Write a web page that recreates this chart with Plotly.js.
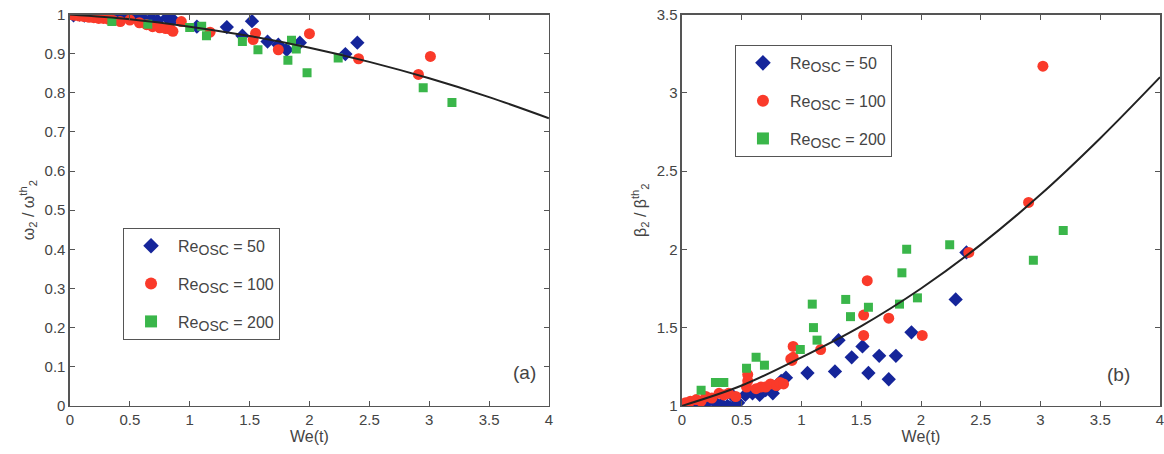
<!DOCTYPE html>
<html>
<head>
<meta charset="utf-8">
<script src="https://cdn.plot.ly/plotly-3.0.1.min.js"></script>
<style>html,body{margin:0;padding:0;background:#fff;}#chart{width:1164px;height:454px;}</style>
</head>
<body>
<div id="chart"></div>
<script>
// ---- Panel (a): omega_2 / omega_2^th vs We(t) ----
const aBlueX = [0.03,0.08,0.12,0.18,0.22,0.25,0.30,0.35,0.38,0.45,0.52,0.60,0.68,0.73,0.81,0.86,1.06,1.31,1.44,1.52,1.65,1.74,1.81,1.92,2.30,2.40];
const aBlueY = [0.998,1.0,0.997,1.0,0.999,0.996,0.998,1.0,0.995,0.999,0.996,0.993,0.990,0.985,0.992,0.987,0.969,0.968,0.946,0.983,0.931,0.923,0.910,0.928,0.899,0.928];
const aRedX = [0.0,0.04,0.08,0.12,0.16,0.20,0.24,0.28,0.32,0.36,0.42,0.50,0.58,0.64,0.69,0.75,0.80,0.84,0.86,0.93,1.17,1.53,1.55,1.74,2.00,2.41,2.91,3.01];
const aRedY = [1.0,0.998,0.996,0.995,0.993,0.992,0.990,0.990,0.988,0.985,0.982,0.986,0.979,0.974,0.969,0.966,0.964,0.962,0.957,0.982,0.955,0.936,0.952,0.910,0.951,0.887,0.847,0.893];
const aGreenX = [0.35,0.65,1.00,1.10,1.14,1.44,1.57,1.82,1.85,1.89,1.98,2.24,2.95,3.19];
const aGreenY = [0.982,0.975,0.967,0.970,0.946,0.931,0.910,0.883,0.934,0.912,0.851,0.889,0.813,0.775];
const aCurveX = [0,0.5,1,1.5,2,2.5,3,3.5,4];
const aCurveY = [1.0,0.988,0.969,0.945,0.915,0.879,0.837,0.789,0.735];

// ---- Panel (b): beta_2 / beta_2^th vs We(t) ----
const bBlueX = [0.03,0.08,0.14,0.18,0.22,0.28,0.33,0.38,0.40,0.43,0.47,0.53,0.59,0.65,0.70,0.76,0.78,0.83,0.87,1.05,1.28,1.31,1.42,1.51,1.56,1.65,1.73,1.79,1.92,2.29,2.38];
const bBlueY = [1.0,1.01,1.02,1.01,1.03,1.02,1.01,1.0,0.99,1.06,1.02,1.07,1.08,1.07,1.10,1.08,1.12,1.16,1.18,1.21,1.22,1.42,1.31,1.38,1.21,1.32,1.17,1.32,1.47,1.68,1.98];
const bRedX = [0.03,0.07,0.12,0.16,0.20,0.25,0.31,0.35,0.39,0.45,0.54,0.55,0.55,0.62,0.66,0.70,0.74,0.79,0.82,0.85,0.91,0.92,0.93,0.93,1.16,1.52,1.52,1.55,1.73,2.01,2.40,2.90,3.02];
const bRedY = [1.02,1.03,1.04,1.03,1.06,1.05,1.08,1.07,1.08,1.06,1.12,1.16,1.20,1.11,1.12,1.12,1.14,1.13,1.15,1.14,1.30,1.29,1.31,1.38,1.36,1.45,1.58,1.80,1.56,1.45,1.98,2.30,3.17];
const bGreenX = [0.16,0.28,0.35,0.54,0.62,0.69,0.99,1.09,1.10,1.13,1.37,1.41,1.56,1.82,1.84,1.88,1.97,2.24,2.94,3.19];
const bGreenY = [1.10,1.15,1.15,1.24,1.31,1.26,1.36,1.65,1.50,1.42,1.68,1.57,1.63,1.65,1.85,2.00,1.69,2.03,1.93,2.12];
const bCurveX = [0,0.5,1,1.5,2,2.5,3,3.5,4];
const bCurveY = [1.0,1.13,1.31,1.51,1.75,2.03,2.35,2.71,3.10];

const subOSC = '<sub><span style="font-size:14px">OSC</span></sub>';
const seriesNames = ['Re' + subOSC + ' = 50','Re' + subOSC + ' = 100','Re' + subOSC + ' = 200'];
const colBlue = '#15259a', colRed = '#fa3a2a', colGreen = '#3ab64a';

function pts(x,y,name,color,symbol,size,xa,ya,leg,grp){
  return {x:x,y:y,name:name,type:'scatter',mode:'markers',xaxis:xa,yaxis:ya,legend:leg,legendgroup:grp,
    marker:{color:color,symbol:symbol,size:size,line:{width:0}},cliponaxis:true};
}
const traces = [
  pts(aBlueX,aBlueY,seriesNames[0],colBlue,'diamond',11,'x','y','legend','a1'),
  pts(aRedX,aRedY,seriesNames[1],colRed,'circle',11,'x','y','legend','a2'),
  pts(aGreenX,aGreenY,seriesNames[2],colGreen,'square',9,'x','y','legend','a3'),
  {x:aCurveX,y:aCurveY,type:'scatter',mode:'lines',line:{color:'#222',width:2,shape:'spline'},showlegend:false,xaxis:'x',yaxis:'y'},
  pts(bBlueX,bBlueY,seriesNames[0],colBlue,'diamond',11,'x2','y2','legend2','b1'),
  pts(bRedX,bRedY,seriesNames[1],colRed,'circle',11,'x2','y2','legend2','b2'),
  pts(bGreenX,bGreenY,seriesNames[2],colGreen,'square',9,'x2','y2','legend2','b3'),
  {x:bCurveX,y:bCurveY,type:'scatter',mode:'lines',line:{color:'#222',width:2,shape:'spline'},showlegend:false,xaxis:'x2',yaxis:'y2'}
];

const fontFam = 'Liberation Sans, Arial, sans-serif';
const axCommon = {showline:true,linecolor:'#555',linewidth:1.5,mirror:'ticks',ticks:'inside',ticklen:5,tickcolor:'#555',
  showgrid:false,zeroline:false,ticklabeloverflow:'allow',tickfont:{family:fontFam,size:15,color:'#444'}};
const yDom = [0.106,0.968];
const legCommon = {xanchor:'left',yanchor:'top',bordercolor:'#555',borderwidth:1,bgcolor:'#fff',
    font:{family:fontFam,size:16,color:'#444'},itemwidth:44,tracegroupgap:14,itemsizing:'constant'};
const layout = {
  width:1164,height:454,margin:{l:0,r:0,t:0,b:0},paper_bgcolor:'#fff',plot_bgcolor:'#fff',
  font:{family:fontFam,color:'#444'},
  xaxis:Object.assign({},axCommon,{domain:[0.0601,0.4716],range:[0,4],dtick:0.5,anchor:'y',
    title:{text:'We(t)',font:{size:16,color:'#444'},standoff:1}}),
  yaxis:Object.assign({},axCommon,{domain:yDom,range:[0,1],dtick:0.1,anchor:'x',
    title:{text:'ω<sub>2</sub> / ω<sup>th</sup><sub>2</sub>',font:{size:16,color:'#444'},standoff:6}}),
  xaxis2:Object.assign({},axCommon,{domain:[0.5859,0.9966],range:[0,4],dtick:0.5,anchor:'y2',
    title:{text:'We(t)',font:{size:16,color:'#444'},standoff:1}}),
  yaxis2:Object.assign({},axCommon,{domain:yDom,range:[1,3.5],dtick:0.5,anchor:'x2',
    title:{text:'β<sub>2</sub> / β<sup>th</sup><sub>2</sub>',font:{size:16,color:'#444'},standoff:6}}),
  legend:Object.assign({},legCommon,{x:0.1057,y:0.498}),
  legend2:Object.assign({},legCommon,{x:0.6314,y:0.901}),
  annotations:[
    {text:'(a)',xref:'x',yref:'y',x:3.80,y:0.084,showarrow:false,font:{family:fontFam,size:19,color:'#444'}},
    {text:'(b)',xref:'x2',yref:'y2',x:3.65,y:1.2,showarrow:false,font:{family:fontFam,size:19,color:'#444'}}
  ]
};
Plotly.newPlot('chart',traces,layout,{displayModeBar:false,staticPlot:true});
</script>
</body>
</html>
